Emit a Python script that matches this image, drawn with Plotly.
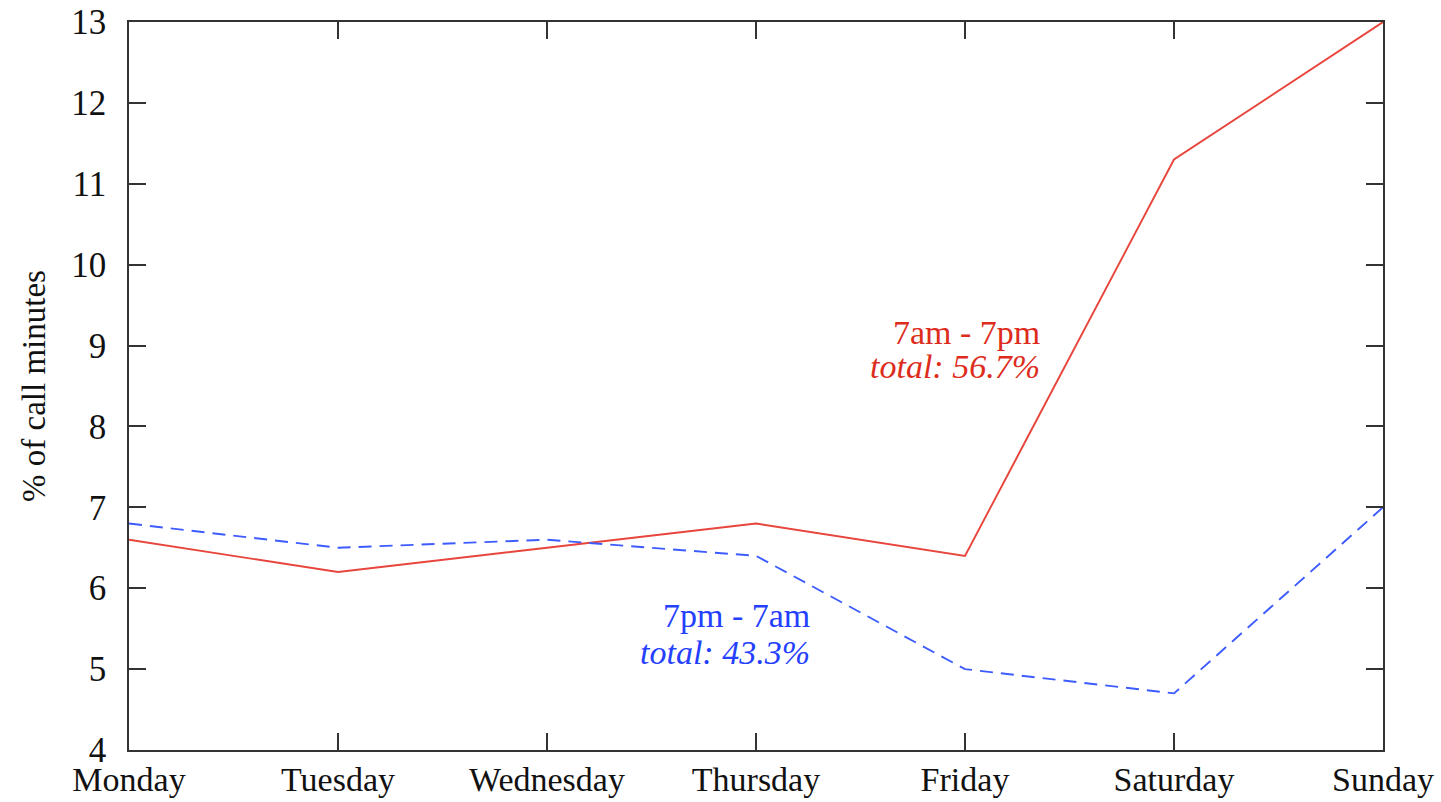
import plotly.graph_objects as go

days = ["Monday", "Tuesday", "Wednesday", "Thursday", "Friday", "Saturday", "Sunday"]
day_pct = [6.6, 6.2, 6.5, 6.8, 6.4, 11.3, 13.0]      # 7am - 7pm
night_pct = [6.8, 6.5, 6.6, 6.4, 5.0, 4.7, 7.0]      # 7pm - 7am
y_ticks = [4, 5, 6, 7, 8, 9, 10, 11, 12, 13]

RED = "#e8453c"
BLUE = "#3d5cff"
FONT = "Liberation Serif"
FS = 35

fig = go.Figure()
fig.add_trace(go.Scatter(x=days, y=day_pct, mode="lines",
                         line=dict(color=RED, width=1.9), showlegend=False))
fig.add_trace(go.Scatter(x=days, y=night_pct, mode="lines",
                         line=dict(color=BLUE, width=1.9, dash="13px,8px"), showlegend=False))

labels = [
    (4.368, 9.167, "7am - 7pm", "#dd2c1c"),
    (4.368, 8.747, "<i>total: 56.7%</i>", "#dd2c1c"),
    (3.268, 5.669, "7pm - 7am", "#2440ff"),
    (3.268, 5.211, "<i>total: 43.3%</i>", "#2440ff"),
]
for lx, ly, txt, col in labels:
    fig.add_annotation(x=lx, y=ly, xref="x", yref="y", text=txt,
                       showarrow=False, xanchor="right", yanchor="middle", align="right",
                       font=dict(family=FONT, size=FS - 1, color=col))

axis_common = dict(showline=True, linecolor="#333333", linewidth=1.5, mirror="ticks",
                   ticks="inside", ticklen=17, tickwidth=1.5, tickcolor="#333333",
                   showgrid=False, zeroline=False)

fig.update_xaxes(type="category", range=[0, 6], ticklabelstandoff=-2,
                 tickfont=dict(family=FONT, size=FS - 1, color="#111111"), **axis_common)
fig.update_yaxes(range=[4, 13], tickvals=y_ticks, ticklabelstandoff=14,
                 tickfont=dict(family=FONT, size=FS, color="#111111"),
                 title=dict(text="% of call minutes", font=dict(family=FONT, size=FS - 2, color="#111111"),
                            standoff=16),
                 **axis_common)

fig.update_layout(width=1441, height=802, plot_bgcolor="white", paper_bgcolor="white",
                  margin=dict(l=129, r=58, t=22, b=52, autoexpand=False), font=dict(family=FONT))

fig.write_html("out.html", config={"displayModeBar": False},
               post_script="document.body.style.margin='0';document.body.style.overflow='hidden';")
